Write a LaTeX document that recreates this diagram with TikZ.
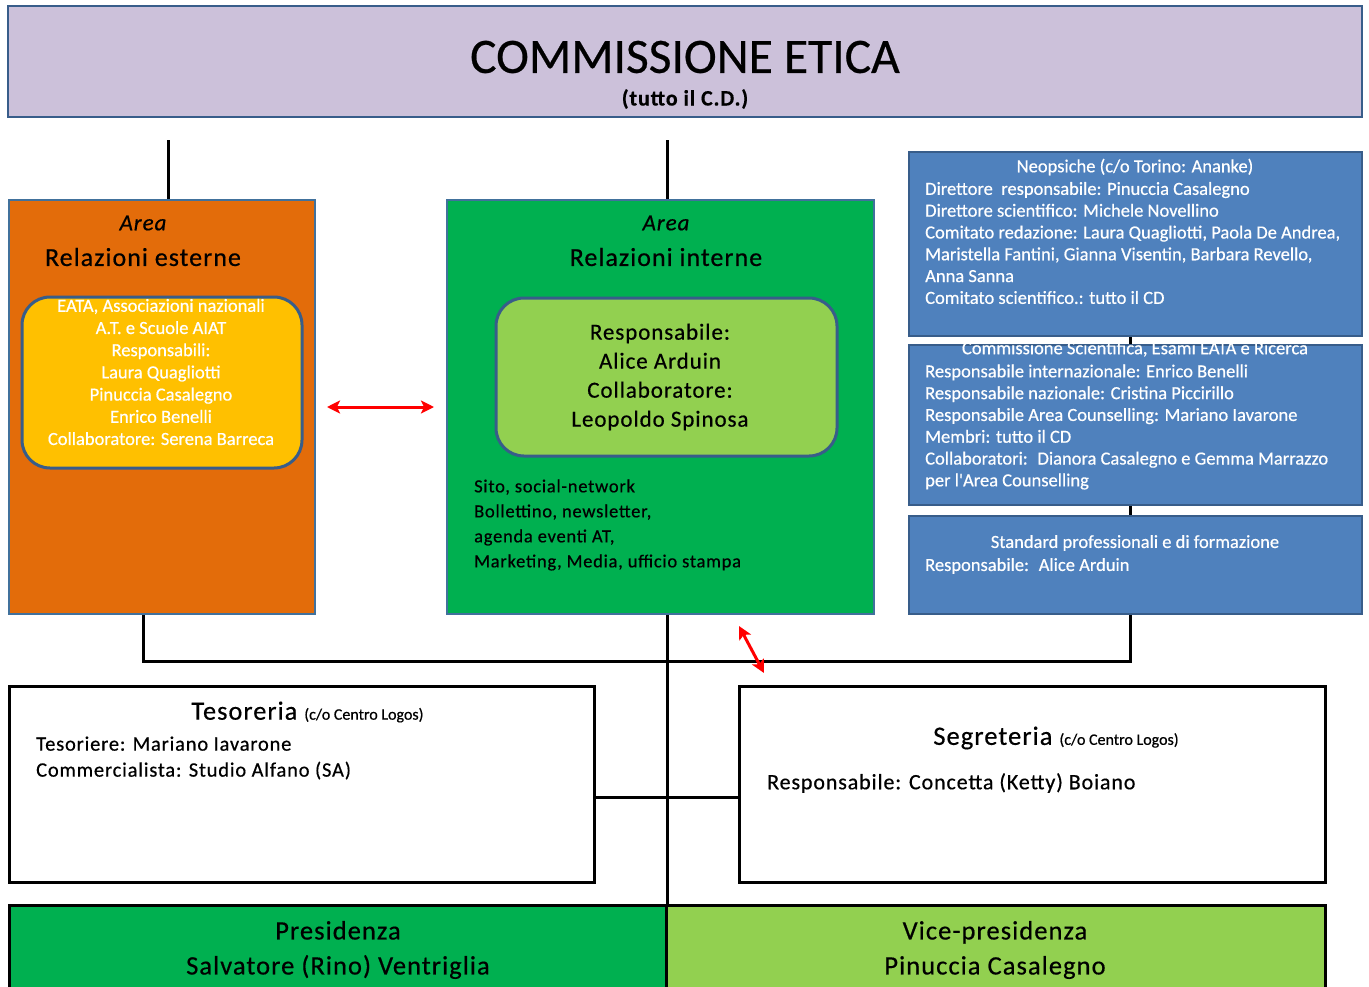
\documentclass[tikz,border=0pt]{standalone}
\usepackage{fontspec}
\setmainfont{Carlito}[LetterSpace=4,FakeBold=0.5]
\newfontfamily\plainfont{Carlito}[FakeBold=0.5]
\usetikzlibrary{arrows.meta}
\definecolor{lav}{HTML}{CCC1DA}
\definecolor{org}{HTML}{E36C0A}
\definecolor{yel}{HTML}{FFC000}
\definecolor{grn}{HTML}{00B050}
\definecolor{lgrn}{HTML}{92D050}
\definecolor{blu}{HTML}{4F81BD}
\definecolor{bblu}{HTML}{41719C}
\definecolor{dblu}{HTML}{385D8A}
\newcommand{\fs}[2]{\fontsize{#1}{#2}\selectfont}
\tikzset{
  box/.style={draw=bblu, line width=2.5pt, inner sep=0pt},
  rbox/.style={draw=dblu, line width=3pt, rounded corners=28pt, inner sep=0pt},
  wbox/.style={draw=black, fill=white, line width=3pt, inner sep=0pt},
  bbox/.style={draw=dblu, fill=blu, line width=2.5pt, inner sep=0pt},
  txt/.style={inner sep=0pt, text=black},
  wtxt/.style={inner sep=0pt, text=white},
  conn/.style={draw=black, line width=3pt},
  redarr/.style={draw=red, line width=3pt, {Stealth[length=13pt,width=13pt,inset=3pt]}-{Stealth[length=13pt,width=13pt,inset=3pt]}}
}
\begin{document}
\begin{tikzpicture}[x=1pt,y=-1pt]
\clip (0,0) rectangle (1369,986);
\fill[white] (0,0) rectangle (1369,986);
% top
\node[box, draw=dblu, fill=lav, minimum width=1354pt, minimum height=111pt] (top) at (685,61.5) {};
\node[txt, font={\plainfont\fs{49.5}{55}}] (toptitle) at (685,57) {COMMISSIONE ETICA};
\node[txt, font={\bfseries\fs{22}{24}}] (topsub) at (685,99) {(tutto il C.D.)};
% orange
\node[box, fill=org, minimum width=306pt, minimum height=414pt] (ext) at (162,407) {};
\node[txt, font={\itshape\fs{23}{25}}] (extarea) at (143,223) {Area};
\node[txt, font={\fs{26}{28}}] (exttitle) at (143,257) {Relazioni esterne};
\node[rbox, fill=yel, minimum width=280pt, minimum height=171pt] (extin) at (162,382.5) {};
\node[wtxt, align=center, font={\plainfont\fs{18.5}{22.2}}] (extintxt) at (161,372) {EATA, Associazioni nazionali\\A.T. e Scuole AIAT\\Responsabili:\\Laura Quagliotti\\Pinuccia Casalegno\\Enrico Benelli\\Collaboratore: Serena Barreca};
% green
\node[box, fill=grn, minimum width=427pt, minimum height=414pt] (int) at (660.5,407) {};
\node[txt, font={\itshape\fs{23}{25}}] (intarea) at (666,223) {Area};
\node[txt, font={\fs{26}{28}}] (inttitle) at (666,257) {Relazioni interne};
\node[rbox, fill=lgrn, minimum width=341pt, minimum height=158pt] (intin) at (666.5,377) {};
\node[txt, align=center, font={\fs{23}{29}}] (intintxt) at (660,377) {Responsabile:\\Alice Arduin\\Collaboratore:\\Leopoldo Spinosa};
\node[txt, align=left, anchor=west, font={\fs{18.5}{25}}] (intlist) at (474,525) {Sito, social-network\\Bollettino, newsletter,\\agenda eventi AT,\\Marketing, Media, ufficio stampa};
% blue boxes
\node[bbox, minimum width=453pt, minimum height=184pt] (neo) at (1135.5,244) {};
\node[wtxt, font={\plainfont\fs{18.5}{21}}] (neotitle) at (1135,167) {Neopsiche (c/o Torino: Ananke)};
\node[wtxt, align=left, anchor=west, font={\plainfont\fs{18.5}{21.8}}] (neotxt) at (925,243) {Direttore~ responsabile: Pinuccia Casalegno\\Direttore scientifico: Michele Novellino\\Comitato redazione: Laura Quagliotti, Paola De Andrea,\\Maristella Fantini, Gianna Visentin, Barbara Revello,\\Anna Sanna\\Comitato scientifico.: tutto il CD};
\node[bbox, minimum width=453pt, minimum height=160pt] (sci) at (1135.5,425) {};
\node[wtxt, font={\plainfont\fs{18.5}{21}}] (scititle) at (1135,349) {Commissione Scientifica, Esami EATA e Ricerca};
\node[wtxt, align=left, anchor=west, font={\plainfont\fs{18.5}{21.8}}] (scitxt) at (925,427) {Responsabile internazionale: Enrico Benelli\\Responsabile nazionale: Cristina Piccirillo\\Responsabile Area Counselling: Mariano Iavarone\\Membri: tutto il CD\\Collaboratori:~ Dianora Casalegno e Gemma Marrazzo\\per l'Area Counselling};
\node[bbox, minimum width=453pt, minimum height=98pt] (std) at (1135.5,565) {};
\node[wtxt, font={\plainfont\fs{18.5}{21}}] (stdtitle) at (1135,543) {Standard professionali e di formazione};
\node[wtxt, anchor=west, font={\plainfont\fs{18.5}{21}}] (stdtxt) at (925,566) {Responsabile:~ Alice Arduin};
% tesoreria / segreteria
\node[wbox, minimum width=585pt, minimum height=196pt] (tes) at (301.5,784) {};
\node[txt, font={\fs{26.3}{28}}] (testitle) at (307.5,712) {Tesoreria {\plainfont\fs{16}{18}(c/o Centro Logos)}};
\node[txt, align=left, anchor=west, font={\fs{20.5}{26}}] (testxt) at (36,758) {Tesoriere: Mariano Iavarone\\Commercialista: Studio Alfano (SA)};
\node[wbox, minimum width=586pt, minimum height=196pt] (seg) at (1032,784) {};
\node[txt, font={\fs{26.5}{28}}] (segtitle) at (1056,738) {Segreteria {\plainfont\fs{16}{18}(c/o Centro Logos)}};
\node[txt, anchor=west, font={\fs{22}{24}}] (segtxt) at (767,783) {Responsabile: Concetta (Ketty) Boiano};
% presidenza
\node[box, draw=black, line width=3pt, fill=grn, minimum width=657pt, minimum height=110pt] (pres) at (337.5,960) {};
\node[txt, align=center, font={\fs{26.5}{35}}] (prestxt) at (338,950) {Presidenza\\Salvatore (Rino) Ventriglia};
\node[box, draw=black, line width=3pt, fill=lgrn, minimum width=659pt, minimum height=110pt] (vice) at (995.5,960) {};
\node[txt, align=center, font={\fs{26.5}{35}}] (vicetxt) at (995,950) {Vice-presidenza\\Pinuccia Casalegno};
% connectors
\coordinate (c1) at (168,140);
\coordinate (c2) at (667,140);
\draw[conn] (c1) -- (c1 |- ext.north);
\draw[conn] (c2) -- (c2 |- int.north);
\coordinate (jl) at (143,661);
\coordinate (jr) at (1130,661);
\draw[conn] (jl |- ext.south) -- (jl) -- (jr) -- (jr |- std.south);
\draw[conn] (c2 |- int.south) -- (c2 |- pres.north);
\draw[conn] (jr |- neo.south) -- (jr |- sci.north);
\draw[conn] (jr |- sci.south) -- (jr |- std.north);
\draw[conn] (tes.east |- 0,797) -- (seg.west |- 0,797);
% red arrows
\coordinate (ra1) at (327,407);
\coordinate (ra2) at (434,407);
\draw[redarr] (ra1) -- (ra2);
\coordinate (rb1) at (739,626);
\coordinate (rb2) at (764,673);
\draw[redarr] (rb1) -- (rb2);
\end{tikzpicture}
\end{document}
